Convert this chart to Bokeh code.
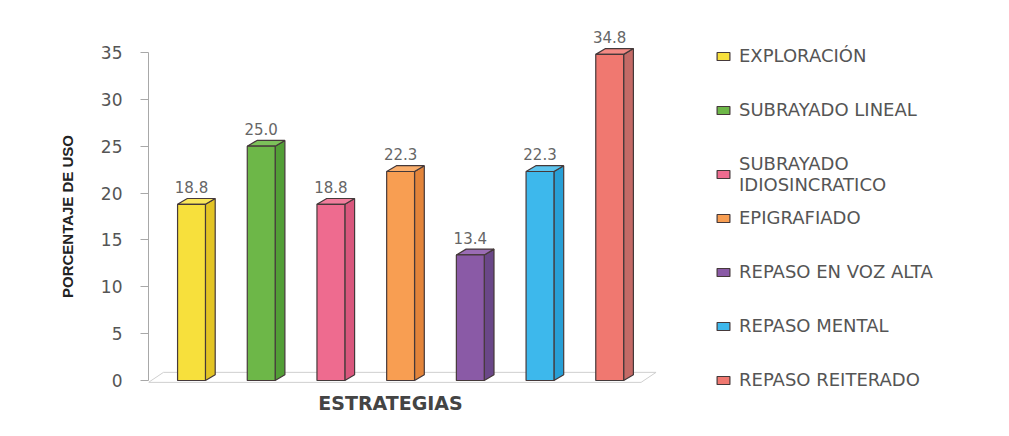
from bokeh.plotting import figure
from bokeh.models import Range1d, FixedTicker, Label, Legend, LegendItem, ColumnDataSource
from bokeh.embed import file_html
from bokeh.resources import INLINE
from bokeh.core.properties import value

# ---- data ----
categories = ["EXPLORACIÓN", "SUBRAYADO LINEAL", "SUBRAYADO\nIDIOSINCRATICO", "EPIGRAFIADO",
              "REPASO EN VOZ ALTA", "REPASO MENTAL", "REPASO REITERADO"]
percentages = [18.8, 25.0, 18.8, 22.3, 13.4, 22.3, 34.8]
value_labels = ["18.8", "25.0", "18.8", "22.3", "13.4", "22.3", "34.8"]
y_ticks = [0, 5, 10, 15, 20, 25, 30, 35]
x_title = "ESTRATEGIAS"
y_title = "PORCENTAJE DE USO"

front_colors = ["#F7E03C", "#6DB748", "#EE6B8F", "#F89E52", "#8A5AA6", "#3DB8EC", "#F07870"]
side_colors = ["#E3C424", "#529E36", "#D9577D", "#E3843A", "#6A4788", "#279FD6", "#C46A66"]
top_colors = ["#F9E65A", "#7CC15A", "#F07D9C", "#FAAE6C", "#9A6CB4", "#5CC4EE", "#F28A84"]

# ---- style constants ----
HW = 0.2      # half width of bar front (category units)
DX = 0.14     # 3D depth in x
DY = 0.62     # 3D depth in y (value units)
LABEL_OFF = 1.85
EDGE = "#45393a"

n = len(categories)
idx = list(range(n))

p = figure(width=1009, height=436, output_backend="svg", toolbar_location=None,
           x_range=Range1d(-0.617, 11.736), y_range=Range1d(-3.415, 38.415),
           x_axis_location=None, min_border_left=148, min_border_right=0,
           min_border_top=20, min_border_bottom=24, background_fill_color="white",
           border_fill_color="white")
p.grid.visible = False
p.outline_line_color = None

# floor
fx0, fx1 = -0.617, n - 1 + 0.45
p.patch([fx0, fx1, fx1 + 0.215, fx0 + 0.215], [-0.2, -0.2, 0.87, 0.87],
        fill_color="white", line_color="#cfcfcf", line_width=1)

src = ColumnDataSource(dict(
    x=idx,
    left=[i - HW for i in idx], right=[i + HW for i in idx],
    bottom=[0] * n, top=percentages,
    front=front_colors, side=side_colors, topc=top_colors,
    side_xs=[[i + HW, i + HW + DX, i + HW + DX, i + HW] for i in idx],
    side_ys=[[0, DY, v + DY, v] for v in percentages],
    top_xs=[[i - HW, i - HW + DX, i + HW + DX, i + HW] for i in idx],
    top_ys=[[v, v + DY, v + DY, v] for v in percentages],
    ly=[v + LABEL_OFF for v in percentages],
    lab=value_labels,
))

p.patches("side_xs", "side_ys", source=src, fill_color="side", line_color=EDGE, line_width=1.2)
p.patches("top_xs", "top_ys", source=src, fill_color="topc", line_color=EDGE, line_width=1.2)
bars = p.quad(left="left", right="right", bottom="bottom", top="top", source=src,
              fill_color="front", line_color=EDGE, line_width=1.2)

p.text(x="x", y="ly", text="lab", source=src, text_align="center", text_baseline="middle",
       text_font=value("DejaVu Sans"), text_font_size="15px", text_color="#666666")

# y axis
ax = p.yaxis[0]
ax.ticker = FixedTicker(ticks=y_ticks)
ax.bounds = (0, 35)
ax.axis_line_color = "#a8a8a8"
ax.major_tick_line_color = "#a8a8a8"
ax.major_tick_out = 8
ax.major_tick_in = 0
ax.minor_tick_line_color = None
ax.major_label_standoff = 18
ax.major_label_text_font = "DejaVu Sans"
ax.major_label_text_font_size = "17px"
ax.major_label_text_color = "#555555"
ax.axis_label = y_title
ax.axis_label_text_font = "Liberation Sans"
ax.axis_label_text_font_style = "bold"
ax.axis_label_text_font_size = "15px"
ax.axis_label_text_color = "#222222"
ax.axis_label_standoff = 22

p.add_layout(Label(x=2.855, y=-2.45, text=x_title, text_align="center", text_baseline="middle",
                   text_font="DejaVu Sans", text_font_style="bold", text_font_size="19px",
                   text_color="#444444"))

legend_style = dict(border_line_color=None, background_fill_alpha=0, padding=0, margin=0,
                    label_height=20, glyph_height=10, glyph_width=16,
                    label_standoff=8, label_text_font="DejaVu Sans",
                    label_text_font_size="18px", label_text_color="#555555")

items = [LegendItem(label=c, renderers=[bars], index=i) for i, c in enumerate(categories)]
legend_a = Legend(items=items[:3], location=(567, 217), spacing=33, **legend_style)
legend_b = Legend(items=items[3:], location=(567, 22), spacing=33, **legend_style)
p.add_layout(legend_a)
p.add_layout(legend_b)

open("out.html", "w").write(file_html(p, INLINE))
